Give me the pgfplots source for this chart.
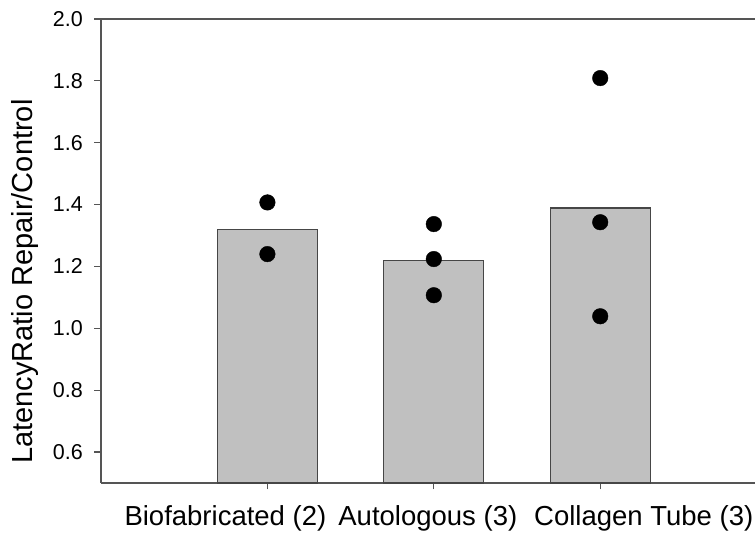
\documentclass[border=0pt]{standalone}
\usepackage{pgfplots}
\pgfplotsset{compat=1.18}
\usetikzlibrary{calc}
\usepackage{fontspec}
\setmainfont{Liberation Sans}
\definecolor{axisgray}{RGB}{85,85,85}
\definecolor{barfill}{RGB}{192,192,192}
\definecolor{baredge}{RGB}{70,70,70}
\begin{document}
\begin{tikzpicture}
\begin{axis}[
  name=ax,
  scale only axis,
  width=654pt, height=464pt,
  xmin=0, xmax=3.93,
  ymin=0.5, ymax=2.0,
  axis x line*=box,
  axis y line*=left,
  axis line style={axisgray, line width=1.3pt},
  xtick={1,2,3},
  xticklabels={\makebox[0pt][c]{\hspace*{-84pt}Biofabricated (2)},\makebox[0pt][c]{\hspace*{-12pt}Autologous (3)},\makebox[0pt][c]{\hspace*{87pt}Collagen Tube (3)}},
  xtick pos=bottom,
  ytick pos=left,
  ytick={0.6,0.8,1.0,1.2,1.4,1.6,1.8,2.0},
  yticklabels={},
  xticklabel style={inner sep=0pt, font=\fontsize{27.5}{32}\selectfont, yshift=-16pt},
  tick align=outside,
  major tick length=6.5pt,
  tick style={axisgray, line width=1.2pt},
  ylabel={LatencyRatio Repair/Control},
  ylabel style={at={(axis description cs:-0.095,0.434)}, anchor=south, inner sep=0pt, font=\fontsize{29}{32}\selectfont},
  clip=false,
]
\addplot[ybar, bar width=0.6, fill=barfill, draw=baredge, line width=1.1pt]
  coordinates {(1,1.320) (2,1.220) (3,1.389)};
\addplot[only marks, mark=*, mark size=7.8pt, mark options={fill=black, draw=black}]
  coordinates {(1,1.407) (1,1.240) (2,1.337) (2,1.224) (2,1.107) (3,1.809) (3,1.343) (3,1.039)};
\pgfplotsinvokeforeach{0.6,0.8,1.0,1.2,1.4,1.6,1.8,2.0}{
  \node[anchor=east, inner sep=0pt, xshift=-18pt, font=\fontsize{21.5}{24}\selectfont] at (axis cs:0,#1) {#1};
}
\end{axis}
\pgfresetboundingbox
\path[use as bounding box] ($(ax.south west)+(-101pt,-51pt)$) rectangle ($(ax.north east)+(0pt,19pt)$);
\end{tikzpicture}
\end{document}
